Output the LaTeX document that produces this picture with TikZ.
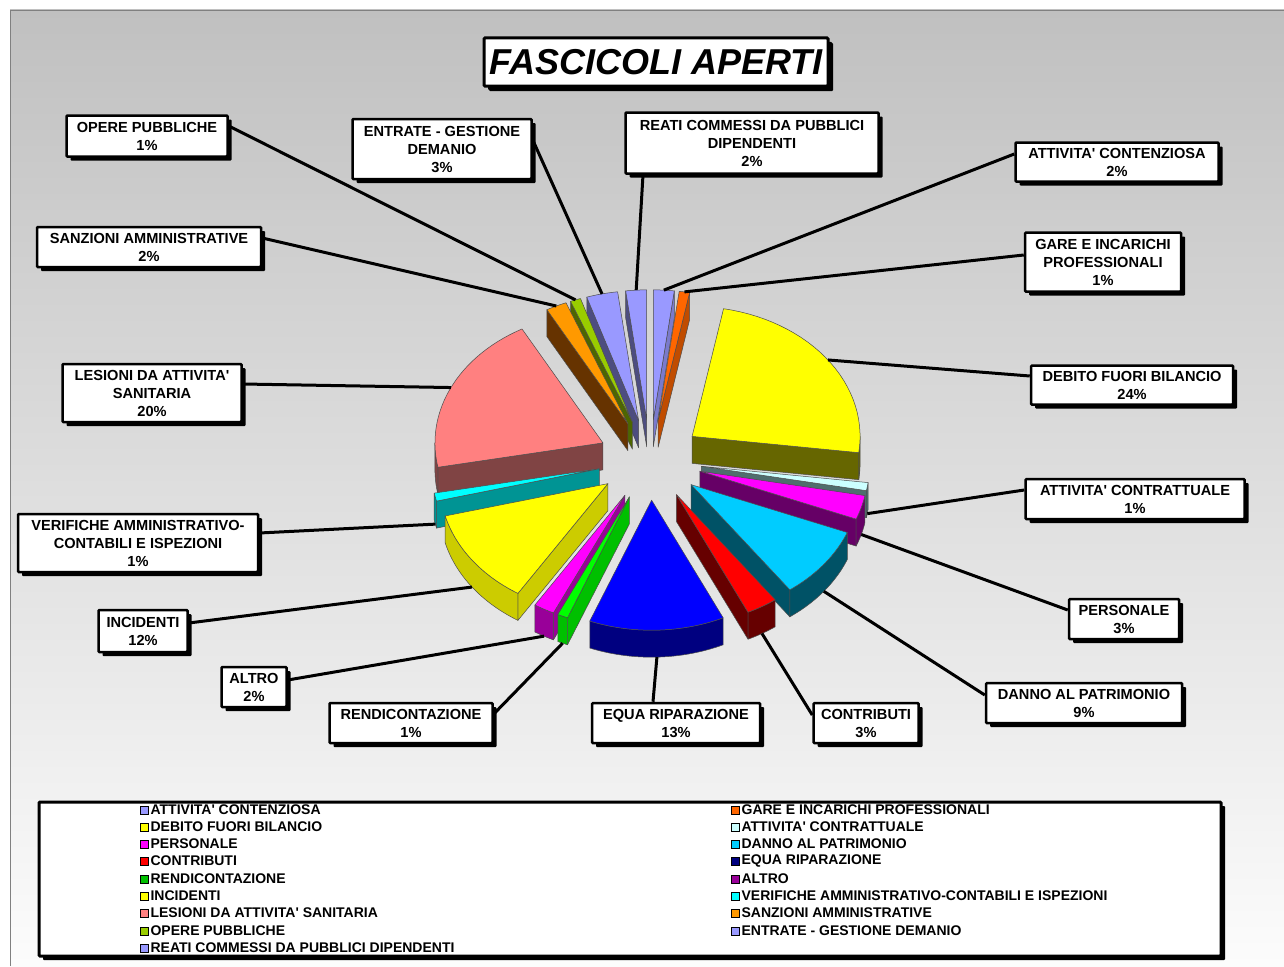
\documentclass[tikz,border=0pt]{standalone}
\usepackage{fontspec}
\setmainfont{Liberation Sans}
\usetikzlibrary{shadows}

% slice colours (top face / wall)
\definecolor{lav}{HTML}{9999FF}   \definecolor{lavw}{HTML}{4D4D80}
\definecolor{lavr}{HTML}{7A7ACC}
\definecolor{orng}{HTML}{FF6600}  \definecolor{orngw}{HTML}{C04C00}
\definecolor{yel}{HTML}{FFFF00}   \definecolor{yelw}{HTML}{666600}
\definecolor{yelb}{HTML}{CCCC00}
\definecolor{ltcy}{HTML}{CCFFFF}  \definecolor{ltcyw}{HTML}{4F6E6E}
\definecolor{mag}{HTML}{FF00FF}   \definecolor{magw}{HTML}{660066}
\definecolor{magb}{HTML}{990099}
\definecolor{sky}{HTML}{00CCFF}   \definecolor{skyw}{HTML}{005266}
\definecolor{rd}{HTML}{FF0000}    \definecolor{rdw}{HTML}{660000}
\definecolor{blu}{HTML}{0000FF}   \definecolor{bluw}{HTML}{000080}
\definecolor{grn}{HTML}{00FF00}   \definecolor{grnw}{HTML}{00C000}
\definecolor{cyn}{HTML}{00FFFF}   \definecolor{cynw}{HTML}{009494}
\definecolor{salm}{HTML}{FF8080}  \definecolor{salmw}{HTML}{804444}
\definecolor{ambr}{HTML}{FF9900}  \definecolor{ambrw}{HTML}{663300}
\definecolor{lime}{HTML}{99CC00}  \definecolor{limew}{HTML}{4D6600}
\definecolor{bgtop}{HTML}{C0C0C0} \definecolor{bgbot}{HTML}{FCFCFC}

\newcommand{\apo}{\textquotesingle}

% pie geometry, in pixels
\def\cx{650} \def\cy{460}
\def\rx{168} \def\ry{130}
\def\ex{52}  \def\ey{40.2}
\def\dep{27}

% #1 start angle, #2 end angle (clockwise from top), #3 top, #4 wall, #5 name
\newcommand{\pieslice}[5]{%
  \pgfmathsetmacro\smid{(#1+#2)/2}%
  \pgfmathsetmacro\vx{\cx+\ex*sin(\smid)}%
  \pgfmathsetmacro\vy{\cy-\ey*cos(\smid)}%
  \pgfmathsetmacro\wlo{max(#1,90)}%
  \pgfmathsetmacro\whi{min(#2,270)}%
  \pgfmathsetmacro\sinst{sin(#1)}%
  \pgfmathsetmacro\sinen{sin(#2)}%
  \pgfmathsetmacro\scos{cos(\smid)}%
  % radial walls
  \ifdim\sinst pt<-0.001pt
    \filldraw[slice, fill=#4] (\vx,\vy) -- ({\vx+\rx*sin(#1)},{\vy-\ry*cos(#1)})
      -- ++(0,\dep) -- (\vx,\vy+\dep) -- cycle;
  \fi
  \ifdim\sinen pt>0.001pt
    \filldraw[slice, fill=#4] (\vx,\vy) -- ({\vx+\rx*sin(#2)},{\vy-\ry*cos(#2)})
      -- ++(0,\dep) -- (\vx,\vy+\dep) -- cycle;
  \fi
  % outer wall
  \ifdim\wlo pt<\whi pt
    \filldraw[slice, fill=#4]
      plot[domain=\wlo:\whi, samples=30] ({\vx+\rx*sin(\x)},{\vy-\ry*cos(\x)})
      -- plot[domain=\whi:\wlo, samples=30] ({\vx+\rx*sin(\x)},{\vy+\dep-\ry*cos(\x)})
      -- cycle;
  \fi
  % top face
  \filldraw[slice, fill=#3] (\vx,\vy)
    -- plot[domain=#1:#2, samples=30] ({\vx+\rx*sin(\x)},{\vy-\ry*cos(\x)}) -- cycle;
  % end of the leader line
  \ifdim\scos pt<0pt
    \coordinate (#5) at ({\vx+\rx*sin(\smid)},{\vy+\dep-\ry*cos(\smid)});
  \else
    \coordinate (#5) at ({\vx+\rx*sin(\smid)},{\vy-\ry*cos(\smid)});
  \fi
}

\tikzset{
  slice/.style={draw=black!70, line width=0.5pt, line join=round},
  lbl/.style={draw, line width=2.5pt, fill=white, align=center, inner sep=0pt,
    rounded corners=1pt, font=\fontsize{14.6}{18}\selectfont\bfseries,
    drop shadow={shadow xshift=4pt, shadow yshift=-4pt, opacity=1, fill=black}},
  titlebox/.style={lbl, line width=3pt, font=\fontsize{36}{40}\selectfont\bfseries\itshape,
    drop shadow={shadow xshift=5pt, shadow yshift=-5pt, opacity=1, fill=black}},
  leader/.style={line width=3pt},
  legsq/.style={draw, line width=0.8pt, minimum size=8pt, inner sep=0pt},
  legtxt/.style={anchor=west, inner sep=1pt, font=\fontsize{14}{15}\selectfont\bfseries}
}

\begin{document}
\begin{tikzpicture}[x=1pt, y=-1pt]
  \useasboundingbox (0,0) rectangle (1284,966);
  \fill[white] (0,0) rectangle (1284,966);
  \shade[top color=bgtop, bottom color=bgbot] (10,10) rectangle (1284,966);
  \draw[gray] (10,966) -- (10,10) -- (1284,10);

  % --- PIE, back to front ---
  \pieslice{0}{7.2}{lav}{lavr}{p-cont}
  \pieslice{352.8}{360}{lav}{lavw}{p-reati}
  \pieslice{7.2}{10.8}{orng}{orngw}{p-gare}
  \pieslice{342}{352.8}{lav}{lavw}{p-entr}
  \pieslice{338.4}{342}{lime}{limew}{p-opere}
  \pieslice{331.2}{338.4}{ambr}{ambrw}{p-sanz}
  \pieslice{10.8}{97.2}{yel}{yelw}{p-debito}
  \pieslice{259.2}{331.2}{salm}{salmw}{p-les}
  \pieslice{97.2}{100.8}{ltcy}{ltcyw}{p-contr}
  \pieslice{255.6}{259.2}{cyn}{cynw}{p-verif}
  \pieslice{100.8}{111.6}{mag}{magw}{p-pers}
  \pieslice{212.4}{255.6}{yel}{yelb}{p-inc}
  \pieslice{111.6}{144}{sky}{skyw}{p-danno}
  \pieslice{144}{154.8}{rd}{rdw}{p-contrib}
  \pieslice{205.2}{212.4}{mag}{magb}{p-altro}
  \pieslice{201.6}{205.2}{grn}{grnw}{p-rend}
  \pieslice{154.8}{201.6}{blu}{bluw}{p-equa}

  % --- TITLE ---
  \node[titlebox, minimum width=344pt, minimum height=48pt] (title) at (656,62) {FASCICOLI APERTI};

  % --- LABELS ---
  \node[lbl, minimum width=161pt, minimum height=41pt] (opere) at (147,136) {OPERE PUBBLICHE\\1\%};
  \node[lbl, minimum width=224pt, minimum height=40pt] (sanz) at (149,247) {SANZIONI AMMINISTRATIVE\\2\%};
  \node[lbl, minimum width=179pt, minimum height=60pt] (entr) at (442,149) {ENTRATE - GESTIONE\\DEMANIO\\3\%};
  \node[lbl, minimum width=253pt, minimum height=61pt] (reati) at (752,143) {REATI COMMESSI DA PUBBLICI\\DIPENDENTI\\2\%};
  \node[lbl, minimum width=203pt, minimum height=39pt] (cont) at (1117,162) {ATTIVITA\apo{} CONTENZIOSA\\2\%};
  \node[lbl, minimum width=156pt, minimum height=59pt] (gare) at (1103,262) {GARE E INCARICHI\\PROFESSIONALI\\1\%};
  \node[lbl, minimum width=202pt, minimum height=39pt] (debito) at (1132,385) {DEBITO FUORI BILANCIO\\24\%};
  \node[lbl, minimum width=219pt, minimum height=40pt] (contr) at (1135,499) {ATTIVITA\apo{} CONTRATTUALE\\1\%};
  \node[lbl, minimum width=110pt, minimum height=40pt] (pers) at (1124,619) {PERSONALE\\3\%};
  \node[lbl, minimum width=196pt, minimum height=40pt] (danno) at (1084,703) {DANNO AL PATRIMONIO\\9\%};
  \node[lbl, minimum width=105pt, minimum height=40pt] (contrib) at (866,723) {CONTRIBUTI\\3\%};
  \node[lbl, minimum width=168pt, minimum height=40pt] (equa) at (676,723) {EQUA RIPARAZIONE\\13\%};
  \node[lbl, minimum width=163pt, minimum height=40pt] (rend) at (411,723) {RENDICONTAZIONE\\1\%};
  \node[lbl, minimum width=65pt, minimum height=40pt] (altro) at (254,687) {ALTRO\\2\%};
  \node[lbl, minimum width=89pt, minimum height=42pt] (inc) at (143,631) {INCIDENTI\\12\%};
  \node[lbl, minimum width=240pt, minimum height=58pt] (verif) at (138,543) {VERIFICHE AMMINISTRATIVO-\\CONTABILI E ISPEZIONI\\1\%};
  \node[lbl, minimum width=179pt, minimum height=58pt] (les) at (152,393) {LESIONI DA ATTIVITA\apo\\SANITARIA\\20\%};

  % --- LEADER LINES ---
  \draw[leader] ([yshift=10pt]opere.east) -- (p-opere);
  \draw[leader] ([yshift=9pt]sanz.east) -- (p-sanz);
  \draw[leader] ([yshift=9pt]entr.east) -- (p-entr);
  \draw[leader] ([xshift=-109pt]reati.south) -- (p-reati);
  \draw[leader] ([yshift=8pt]cont.west) -- (p-cont);
  \draw[leader] ([yshift=7pt]gare.west) -- (p-gare);
  \draw[leader] ([yshift=9pt]debito.west) -- (p-debito);
  \draw[leader] ([yshift=9pt]contr.west) -- (p-contr);
  \draw[leader] ([yshift=9pt]pers.west) -- (p-pers);
  \draw[leader] ([yshift=8pt]danno.west) -- (p-danno);
  \draw[leader] ([yshift=8pt]contrib.west) -- (p-contrib);
  \draw[leader] ([xshift=-23pt]equa.north) -- (p-equa);
  \draw[leader] ([yshift=9pt]rend.east) -- (p-rend);
  \draw[leader] ([yshift=7pt]altro.east) -- (p-altro);
  \draw[leader] ([yshift=8pt]inc.east) -- (p-inc);
  \draw[leader] ([yshift=10pt]verif.east) -- (p-verif);
  \draw[leader] ([yshift=9pt]les.east) -- (p-les);

  % --- LEGEND ---
  \node[lbl, line width=3pt, minimum width=1182pt, minimum height=154pt] (legend) at (630,879) {};
  \foreach \n/\xx/\yy/\c/\t in {
      1/144/810/lav/{ATTIVITA\apo{} CONTENZIOSA}, 2/735/810/orng/{GARE E INCARICHI PROFESSIONALI},
      3/144/827/yel/{DEBITO FUORI BILANCIO}, 4/735/827/ltcy/{ATTIVITA\apo{} CONTRATTUALE},
      5/144/844/mag/{PERSONALE}, 6/735/844/sky/{DANNO AL PATRIMONIO},
      7/144/861/rd/{CONTRIBUTI}, 8/735/861/bluw/{EQUA RIPARAZIONE},
      9/144/879/grnw/{RENDICONTAZIONE}, 10/735/879/magb/{ALTRO},
      11/144/896/yel/{INCIDENTI}, 12/735/896/cyn/{VERIFICHE AMMINISTRATIVO-CONTABILI E ISPEZIONI},
      13/144/913/salm/{LESIONI DA ATTIVITA\apo{} SANITARIA}, 14/735/913/ambr/{SANZIONI AMMINISTRATIVE},
      15/144/931/lime/{OPERE PUBBLICHE}, 16/735/931/lav/{ENTRATE - GESTIONE DEMANIO},
      17/144/948/lav/{REATI COMMESSI DA PUBBLICI DIPENDENTI}} {
    \node[legsq, fill=\c] (lq\n) at (\xx,\yy) {};
    \node[legtxt] (lt\n) at ([xshift=1pt]lq\n.east) {\t};
  }
\end{tikzpicture}
\end{document}
